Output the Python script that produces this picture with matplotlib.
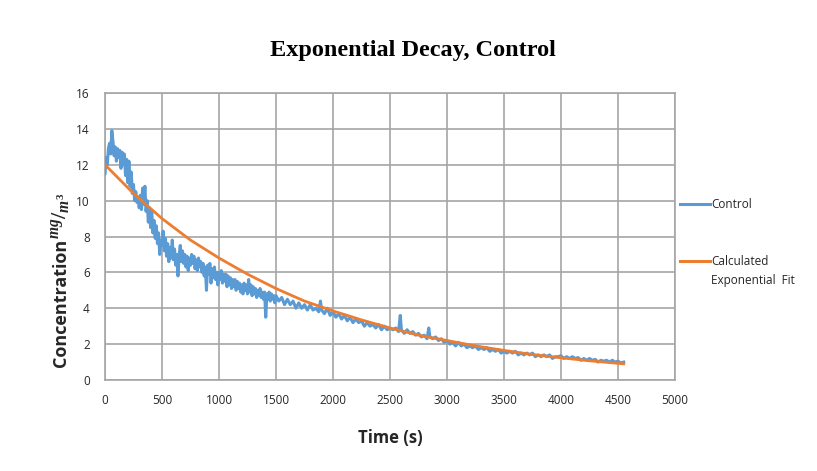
import matplotlib
matplotlib.use('Agg')
import matplotlib.pyplot as plt
from matplotlib.lines import Line2D

control_time = [
    0, 10, 20, 30, 40, 50, 60, 70, 80, 90, 100, 110, 120, 130, 140, 150, 160, 170, 180, 190,
    200, 210, 220, 230, 240, 250, 260, 270, 280, 290, 300, 310, 320, 330, 340, 350, 360, 370, 380, 390,
    400, 410, 420, 430, 440, 450, 460, 470, 480, 490, 500, 510, 520, 530, 540, 550, 560, 570, 580, 590,
    600, 610, 620, 630, 640, 650, 660, 670, 680, 690, 700, 710, 720, 730, 740, 750, 760, 770, 780, 790,
    800, 810, 820, 830, 840, 850, 860, 870, 880, 890, 900, 910, 920, 930, 940, 950, 960, 970, 980, 990,
    1000, 1010, 1020, 1030, 1040, 1050, 1060, 1070, 1080, 1090, 1100, 1110, 1120, 1130, 1140, 1150,
    1160, 1170, 1180, 1190, 1200, 1210, 1220, 1230, 1240, 1250, 1260, 1270, 1280, 1290, 1300, 1310,
    1320, 1330, 1340, 1350, 1360, 1370, 1380, 1390, 1400, 1410, 1420, 1430, 1440, 1450, 1460, 1470,
    1480, 1490, 1500, 1525, 1550, 1575, 1600, 1625, 1650, 1675, 1700, 1725, 1750, 1775, 1800, 1825,
    1850, 1875, 1890, 1900, 1925, 1950, 1975, 2000, 2025, 2050, 2075, 2100, 2125, 2150, 2175, 2200,
    2225, 2250, 2275, 2300, 2325, 2350, 2375, 2400, 2425, 2450, 2475, 2500, 2525, 2550, 2575, 2590,
    2600, 2625, 2650, 2675, 2700, 2725, 2750, 2775, 2800, 2825, 2840, 2850, 2875, 2900, 2925, 2950,
    2975, 3000, 3025, 3050, 3075, 3100, 3125, 3150, 3175, 3200, 3225, 3250, 3275, 3300, 3325, 3350,
    3375, 3400, 3425, 3450, 3475, 3500, 3525, 3550, 3575, 3600, 3625, 3650, 3675, 3700, 3725, 3750,
    3775, 3800, 3825, 3850, 3875, 3900, 3925, 3950, 3975, 4000, 4025, 4050, 4075, 4100, 4125, 4150,
    4175, 4200, 4225, 4250, 4275, 4300, 4325, 4350, 4375, 4400, 4425, 4450, 4475, 4500, 4525, 4550,
]
control_conc = [
    11.5, 12.4, 12.0, 12.9, 13.2, 12.6, 13.9, 13.3, 12.5, 13.0, 12.2, 12.9, 12.4, 12.8, 11.8, 12.7, 12.0, 12.6, 11.4, 12.3,
    11.0, 12.2, 10.8, 11.6, 10.4, 10.9, 10.0, 10.5, 9.9, 10.2, 9.6, 10.3, 9.5, 10.7, 9.8, 10.8, 9.4, 10.0, 8.8, 9.6,
    8.5, 9.4, 8.2, 8.9, 7.9, 8.6, 7.6, 8.2, 7.0, 7.8, 7.5, 8.3, 7.2, 7.9, 6.9, 7.6, 6.6, 7.4, 6.8, 7.8,
    6.7, 7.3, 6.4, 7.0, 5.8, 6.9, 7.5, 6.6, 7.2, 6.5, 7.0, 6.3, 6.9, 6.1, 6.8, 6.4, 7.0, 6.5, 6.9, 6.2,
    6.7, 6.1, 6.8, 6.3, 6.6, 6.0, 6.5, 5.8, 6.3, 5.0, 6.4, 5.9, 6.5, 5.4, 6.2, 5.7, 6.3, 5.6, 6.0, 5.3,
    6.0, 5.6, 6.1, 5.4, 5.9, 5.5, 5.9, 5.2, 5.8, 5.3, 5.7, 5.1, 5.6, 5.2, 5.6, 5.0,
    5.5, 5.1, 5.4, 4.9, 5.3, 4.8, 5.4, 5.0, 5.3, 4.8, 5.6, 4.9, 5.3, 4.7, 5.2, 4.8,
    5.1, 4.6, 5.0, 4.7, 5.1, 4.6, 4.9, 4.5, 4.9, 3.5, 4.8, 4.5, 4.9, 4.4, 4.8, 4.5,
    4.7, 4.3, 4.7, 4.4, 4.6, 4.2, 4.5, 4.2, 4.4, 4.0, 4.3, 4.0, 4.2, 3.9, 4.2, 3.9,
    4.0, 3.8, 4.4, 3.9, 3.7, 4.0, 3.6, 3.8, 3.5, 3.7, 3.4, 3.6, 3.3, 3.5, 3.2, 3.4,
    3.2, 3.3, 3.0, 3.2, 3.0, 3.1, 2.9, 3.1, 2.8, 3.0, 2.8, 2.9, 2.8, 2.9, 2.7, 3.6,
    2.8, 2.6, 2.8, 2.6, 2.7, 2.5, 2.6, 2.4, 2.5, 2.3, 2.9, 2.4, 2.3, 2.4, 2.2, 2.3,
    2.1, 2.2, 2.0, 2.1, 1.9, 2.1, 1.9, 2.0, 1.8, 1.9, 1.8, 1.9, 1.7, 1.8, 1.7, 1.8,
    1.6, 1.7, 1.6, 1.7, 1.5, 1.6, 1.5, 1.6, 1.5, 1.6, 1.4, 1.5, 1.4, 1.5, 1.4, 1.5,
    1.3, 1.4, 1.3, 1.4, 1.3, 1.4, 1.2, 1.3, 1.3, 1.35, 1.2, 1.3, 1.2, 1.3, 1.2, 1.25,
    1.1, 1.2, 1.1, 1.2, 1.1, 1.15, 1.0, 1.1, 1.05, 1.1, 1.0, 1.1, 1.0, 1.05, 0.95, 1.0,
]

# exponential fit curve
fit_time = [0, 250, 500, 750, 1000, 1250, 1500, 1750, 2000, 2250, 2500, 2750, 3000,
            3250, 3500, 3750, 4000, 4250, 4500, 4550]
fit_conc = [12.0, 10.4, 9.0, 7.8, 6.8, 5.9, 5.1, 4.4, 3.85, 3.35, 2.9, 2.5, 2.2,
            1.9, 1.65, 1.42, 1.24, 1.07, 0.93, 0.9]

x_ticks = [0, 500, 1000, 1500, 2000, 2500, 3000, 3500, 4000, 4500, 5000]
y_ticks = [0, 2, 4, 6, 8, 10, 12, 14, 16]

blue = '#5B9BD5'
orange = '#ED7D31'
grid_color = '#A6A6A6'
text_color = '#262626'

# bold italic serif for the mg/m3 unit
plt.rcParams['mathtext.fontset'] = 'custom'
plt.rcParams['mathtext.it'] = 'Liberation Serif:italic:bold'
plt.rcParams['mathtext.rm'] = 'Liberation Serif:bold'

W, H = 817, 471
fig = plt.figure(figsize=(W / 100, H / 100), dpi=100)
ax = fig.add_axes([105 / W, 1 - 380 / H, 570 / W, 287 / H])

ax.plot(control_time, control_conc, color=blue, linewidth=2.2, zorder=3)
ax.plot(fit_time, fit_conc, color=orange, linewidth=2.0, zorder=4)

ax.set_xlim(0, 5000)
ax.set_ylim(0, 16)
ax.set_xticks(x_ticks)
ax.set_yticks(y_ticks)
ax.grid(True, color=grid_color, linewidth=1.2)
ax.set_axisbelow(True)
for sp in ax.spines.values():
    sp.set_color(grid_color)
    sp.set_linewidth(1.2)
ax.tick_params(colors=grid_color, labelcolor=text_color, labelsize=8.5, length=0)
ax.tick_params(axis='x', pad=10)
ax.tick_params(axis='y', pad=11)
for lbl in ax.get_xticklabels() + ax.get_yticklabels():
    lbl.set_family('Open Sans')

ax.set_xlabel('Time (s)', fontsize=12, fontweight='bold', family='Open Sans',
              color=text_color, labelpad=16)

# y label: word in sans bold, unit as a fraction right after it
fig.text(66 / W, 1 - 239 / H, 'Concentration', rotation=90, rotation_mode='anchor',
         ha='right', va='baseline', fontsize=13, fontweight='bold', family='Open Sans',
         color=text_color)
fig.text(66 / W, 1 - 239 / H, r'$^{mg}/_{m^3}$', rotation=90, rotation_mode='anchor',
         ha='left', va='baseline', fontsize=16, color=text_color)

fig.text(0.505, 0.893, 'Exponential Decay, Control', ha='center', va='center',
         fontsize=17.5, fontweight='bold', family='Liberation Serif')

# legend, Excel style: handle next to the first line of each label
legend_items = [('Control', blue, 204), ('Calculated\nExponential  Fit', orange, 261)]
for label, color, ypix in legend_items:
    fig.add_artist(Line2D([680 / W, 710 / W], [1 - ypix / H, 1 - ypix / H],
                          transform=fig.transFigure, color=color, linewidth=2.2))
    fig.text(711 / W, 1 - (ypix - 6) / H, label, ha='left', va='top', fontsize=8.5,
             family='Open Sans', color=text_color, linespacing=1.6)

fig.savefig('out.png', dpi=100)
